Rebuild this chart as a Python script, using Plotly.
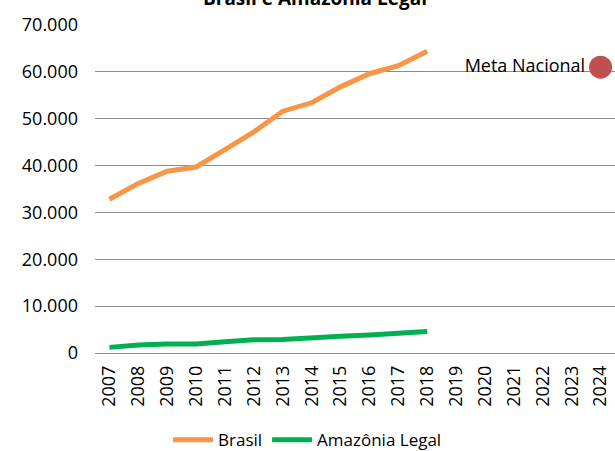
import plotly.graph_objects as go

years = [str(y) for y in range(2007, 2025)]
data_years = [str(y) for y in range(2007, 2019)]
brasil = [32800, 36200, 38800, 39700, 43400, 47200, 51600, 53400, 56800, 59600, 61300, 64400]
amazonia = [1200, 1700, 1900, 1900, 2400, 2850, 2900, 3100, 3550, 3850, 4200, 4600]
meta_year = ["2024"]
meta_value = [61000]
meta_label = ["Meta Nacional"]
title_text = "Brasil e Amazônia Legal"

FONT = "Open Sans"

fig = go.Figure()
fig.add_trace(go.Scatter(
    x=data_years, y=brasil, mode="lines", name="Brasil",
    line=dict(color="#F79646", width=5)))
fig.add_trace(go.Scatter(
    x=data_years, y=amazonia, mode="lines", name="Amazônia Legal",
    line=dict(color="#00B050", width=5)))
fig.add_trace(go.Scatter(
    x=meta_year, y=meta_value, mode="markers+text", name="Meta Nacional",
    text=meta_label, textposition="middle left",
    textfont=dict(family=FONT, size=18, color="#000000"),
    marker=dict(color="#C0504D", size=23),
    showlegend=False, cliponaxis=False))

fig.update_layout(
    width=615, height=451,
    margin=dict(l=95, r=0, t=25, b=98, autoexpand=False),
    paper_bgcolor="white", plot_bgcolor="white",
    separators=",.",
    font=dict(family=FONT, size=18, color="#000000"),
    showlegend=True,
    legend=dict(orientation="h", xref="container", yref="container",
                x=0.5, xanchor="center", y=0.024, yanchor="middle",
                font=dict(family=FONT, size=17), itemwidth=40,
                bgcolor="rgba(0,0,0,0)"),
    annotations=[dict(text="<b>" + title_text + "</b>", xref="paper", yref="paper",
                      x=0.423, y=1.082, xanchor="center", yanchor="middle",
                      showarrow=False, font=dict(family=FONT, size=19, color="#000000"))],
)
fig.update_xaxes(type="category", categoryorder="array", categoryarray=years,
                 range=[-0.5, len(years) - 0.5], tickangle=-90, automargin=False,
                 showgrid=False, showline=False, zeroline=False,
                 ticks="", ticklabelstandoff=8,
                 tickfont=dict(family=FONT, size=18))
fig.update_yaxes(range=[0, 70000], tickvals=[0, 10000, 20000, 30000, 40000, 50000, 60000, 70000],
                 tickformat=",d", showgrid=True, gridcolor="#8c8c8c", gridwidth=1.3,
                 zeroline=True, zerolinecolor="#8c8c8c", zerolinewidth=1.3,
                 showline=False, ticks="", ticklabelstandoff=16, automargin=False,
                 tickfont=dict(family=FONT, size=18))

fig.write_html("out.html", config={"displayModeBar": False},
               post_script="document.body.style.margin='0';document.body.style.overflow='hidden';")
